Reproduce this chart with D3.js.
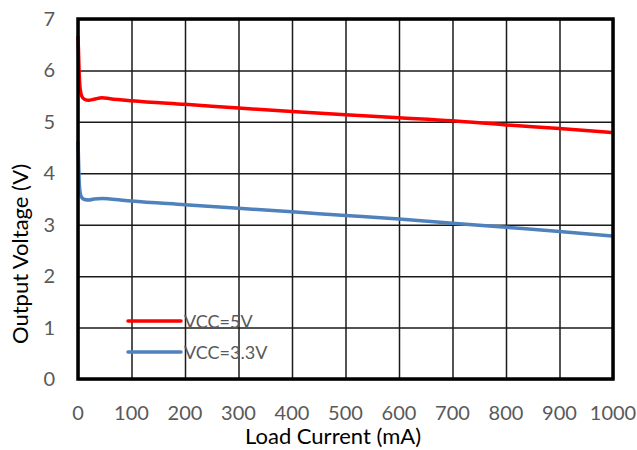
<!DOCTYPE html>
<html>
<head>
<meta charset="utf-8">
<script src="https://cdn.jsdelivr.net/npm/d3@7"></script>
<style>
  body { margin: 0; background: #fff; }
  text { font-family: Lato, "Open Sans", sans-serif; }
</style>
</head>
<body>
<script>
// load current (mA) sample points
var current = [0, 1, 2, 4, 7, 12, 20, 30, 45, 60, 100, 200, 300, 400, 500, 600, 700, 800, 900, 1000];
var vcc5 = [6.67, 6.35, 6.0, 5.65, 5.5, 5.44, 5.42, 5.44, 5.47, 5.45, 5.41, 5.34, 5.27, 5.2, 5.14, 5.08, 5.02, 4.94, 4.87, 4.79];
var vcc33 = [4.62, 4.25, 3.9, 3.62, 3.53, 3.49, 3.48, 3.5, 3.51, 3.5, 3.46, 3.39, 3.32, 3.25, 3.18, 3.11, 3.03, 2.95, 2.87, 2.78];
var seriesNames = ["VCC=5V", "VCC=3.3V"];
var seriesColors = ["#ff0000", "#4f81bd"];
var xTicks = [0, 100, 200, 300, 400, 500, 600, 700, 800, 900, 1000];
var yTicks = [0, 1, 2, 3, 4, 5, 6, 7];

var width = 637, height = 450;
var pLeft = 78, pRight = 613, pTop = 19, pBottom = 379;

var svg = d3.select("body").append("svg")
  .attr("width", width)
  .attr("height", height);

var x = d3.scaleLinear().domain([0, 1000]).range([pLeft, pRight]);
var y = d3.scaleLinear().domain([0, 7]).range([pBottom, pTop]);

// grid
svg.append("g")
  .attr("transform", "translate(0," + pBottom + ")")
  .call(d3.axisBottom(x).tickValues(xTicks).tickSize(-(pBottom - pTop)).tickFormat(""))
  .call(g => g.select(".domain").remove())
  .call(g => g.selectAll("line").attr("stroke", "#1a1a1a").attr("stroke-width", 1.5));

svg.append("g")
  .attr("transform", "translate(" + pLeft + ",0)")
  .call(d3.axisLeft(y).tickValues(yTicks).tickSize(-(pRight - pLeft)).tickFormat(""))
  .call(g => g.select(".domain").remove())
  .call(g => g.selectAll("line").attr("stroke", "#1a1a1a").attr("stroke-width", 1.5));

// tick labels
svg.append("g")
  .selectAll("text")
  .data(xTicks)
  .enter()
  .append("text")
    .attr("x", d => x(d))
    .attr("y", 420)
    .attr("text-anchor", "middle")
    .attr("font-size", 20)
    .attr("fill", "#595959")
    .text(d => d);

svg.append("g")
  .selectAll("text")
  .data(yTicks)
  .enter()
  .append("text")
    .attr("x", 55)
    .attr("y", d => y(d) + 7)
    .attr("text-anchor", "end")
    .attr("font-size", 20)
    .attr("fill", "#595959")
    .text(d => d);

// curves
var seriesData = [vcc5, vcc33];
var line = d3.line()
  .x((d, i) => x(current[i]))
  .y(d => y(d))
  .curve(d3.curveMonotoneX);

svg.append("g")
  .selectAll("path")
  .data(seriesData)
  .enter()
  .append("path")
    .attr("d", d => line(d))
    .attr("fill", "none")
    .attr("stroke", (d, i) => seriesColors[i])
    .attr("stroke-width", 3.5);

// frame
svg.append("rect")
  .attr("x", pLeft)
  .attr("y", pTop)
  .attr("width", pRight - pLeft)
  .attr("height", pBottom - pTop)
  .attr("fill", "none")
  .attr("stroke", "#000")
  .attr("stroke-width", 3.5);

// legend
var legend = svg.append("g")
  .selectAll("g")
  .data(seriesNames)
  .enter()
  .append("g")
    .attr("transform", (d, i) => "translate(128," + (321 + i * 31) + ")");

legend.append("line")
  .attr("x1", 0).attr("x2", 53)
  .attr("stroke", (d, i) => seriesColors[i])
  .attr("stroke-width", 3.5)
  .attr("stroke-linecap", "round");

legend.append("text")
  .attr("x", 56)
  .attr("y", 7)
  .attr("font-size", 18)
  .attr("fill", "#595959")
  .text(d => d);

// axis titles
svg.append("text")
  .attr("x", 333)
  .attr("y", 444)
  .attr("text-anchor", "middle")
  .attr("font-size", 22)
  .attr("fill", "#000")
  .text("Load Current (mA)");

svg.append("text")
  .attr("transform", "translate(28,254) rotate(-90)")
  .attr("text-anchor", "middle")
  .attr("font-size", 22)
  .attr("fill", "#000")
  .text("Output Voltage (V)");
</script>
</body>
</html>
